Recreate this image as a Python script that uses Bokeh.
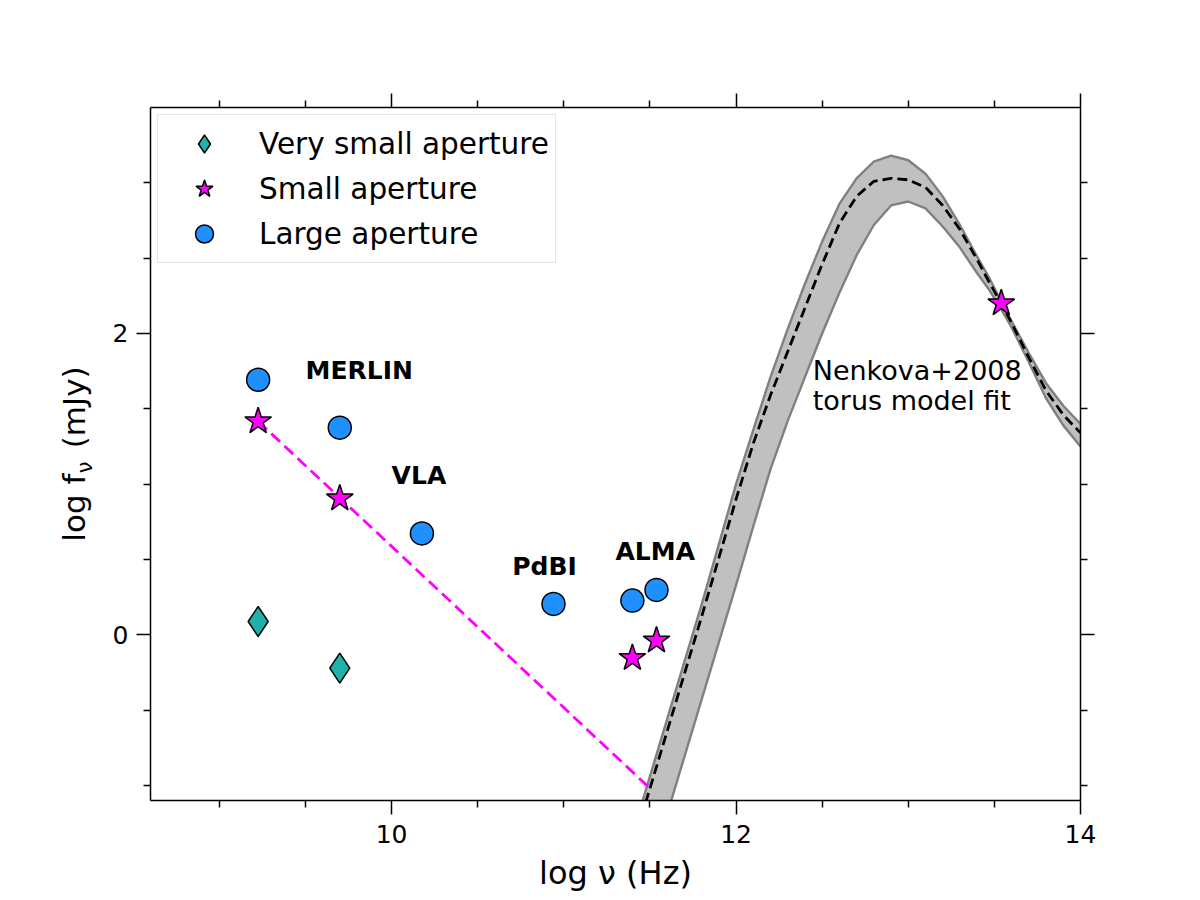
from bokeh.core.properties import value
from bokeh.embed import file_html
from bokeh.models import (ColumnDataSource, FixedTicker, Legend, LegendItem,
                          LinearAxis)
from bokeh.plotting import figure
from bokeh.resources import INLINE

FONT = "DejaVu Sans"

# Nuclear photometry: log frequency [Hz] and log flux density [mJy]
vsmall_nu = [9.225, 9.699]
vsmall_f = [0.088, -0.221]

small_nu = [9.225, 9.699, 11.398, 11.538, 13.54]
small_f = [1.417, 0.905, -0.154, -0.038, 2.20]

large_nu = [9.225, 9.699, 10.176, 10.94, 11.398, 11.538]
large_f = [1.693, 1.375, 0.673, 0.205, 0.227, 0.298]

# Power-law extrapolation through the small-aperture radio points
plaw_nu = [9.225, 11.51]
plaw_f = [1.417, -1.03]

# Clumpy torus model (Nenkova+2008): median and spread of the fit
torus_nu = [11.40, 11.50, 11.60, 11.70, 11.80, 11.90, 12.00, 12.10, 12.20,
            12.30, 12.40, 12.50, 12.60, 12.70, 12.80, 12.90, 13.00, 13.10,
            13.20, 13.30, 13.40, 13.47, 13.54, 13.60, 13.70, 13.80, 13.90,
            14.00]
torus_hi = [-1.32, -0.94, -0.56, -0.18, 0.20, 0.60, 1.00, 1.36, 1.71,
            2.03, 2.33, 2.61, 2.86, 3.03, 3.14, 3.18, 3.15, 3.06,
            2.91, 2.72, 2.51, 2.37, 2.21, 2.08, 1.87, 1.67, 1.52,
            1.40]
torus_med = [-1.40, -1.02, -0.64, -0.26, 0.12, 0.51, 0.90, 1.27, 1.59,
             1.88, 2.17, 2.46, 2.73, 2.91, 3.01, 3.03, 3.02, 2.97,
             2.85, 2.69, 2.49, 2.34, 2.20, 2.07, 1.84, 1.62, 1.46,
             1.34]
torus_lo = [-1.97, -1.58, -1.19, -0.81, -0.43, -0.05, 0.33, 0.72, 1.10,
            1.42, 1.71, 2.00, 2.27, 2.52, 2.72, 2.85, 2.876, 2.83,
            2.71, 2.57, 2.40, 2.29, 2.16, 2.04, 1.81, 1.57, 1.39,
            1.25]

# Instrument names
inst_labels = ["MERLIN", "VLA", "PdBI", "ALMA"]
inst_x = [9.5, 10.0, 10.7, 11.3]
inst_y = [1.755, 1.055, 0.455, 0.555]

model_lines = ["Nenkova+2008", "torus model fit"]
model_x = [12.445, 12.445]
model_y = [1.755, 1.555]

x_major = [10, 12, 14]
x_minor = [9, 9.5, 10.5, 11, 11.5, 12.5, 13, 13.5]
y_major = [0, 2]
y_minor = [-1, -0.5, 0.5, 1, 1.5, 2.5, 3]

p = figure(width=1200, height=900, x_range=(8.6, 14.0), y_range=(-1.1, 3.5),
           output_backend="svg", toolbar_location=None,
           min_border_left=150, min_border_right=120,
           min_border_top=107, min_border_bottom=100)
p.outline_line_color = None
p.grid.visible = False
p.background_fill_color = "white"
p.border_fill_color = "white"


def style_axis(ax):
    ax.axis_line_color = "black"
    ax.axis_line_width = 1.5
    ax.major_tick_line_color = "black"
    ax.major_tick_line_width = 1.5
    ax.minor_tick_line_color = "black"
    ax.minor_tick_line_width = 1.5
    ax.major_tick_in = 0
    ax.major_tick_out = 14
    ax.minor_tick_in = 0
    ax.minor_tick_out = 7
    ax.major_label_text_font = FONT
    ax.major_label_text_font_size = "25px"
    ax.major_label_text_color = "black"


def style_title(ax, size, standoff):
    ax.axis_label_text_font = FONT
    ax.axis_label_text_font_size = size
    ax.axis_label_text_font_style = "normal"
    ax.axis_label_text_color = "black"
    ax.axis_label_standoff = standoff


bottom_axis = p.below[0]
left_axis = p.left[0]
bottom_axis.ticker = FixedTicker(ticks=x_major, minor_ticks=x_minor)
left_axis.ticker = FixedTicker(ticks=y_major, minor_ticks=y_minor)
style_axis(bottom_axis)
style_axis(left_axis)
bottom_axis.major_label_standoff = 10
left_axis.major_label_standoff = 8

bottom_axis.axis_label = "log \u03bd (Hz)"
style_title(bottom_axis, "32px", 8)

# Vertical title: the subscript nu rides on the tick axis, the rest on an
# outer bare axis pulled back over it
left_axis.axis_label = "\u03bd" + "\u00a0" * 4
style_title(left_axis, "21px", 13)

title_axis = LinearAxis(ticker=FixedTicker(ticks=[]),
                        axis_label="log f\u2002\u00a0(mJy)")
title_axis.axis_line_color = None
title_axis.major_tick_line_color = None
title_axis.minor_tick_line_color = None
title_axis.major_tick_out = 0
title_axis.minor_tick_out = 0
title_axis.major_label_standoff = 0
style_title(title_axis, "31px", -22)
p.add_layout(title_axis, "left")

top_axis = LinearAxis(ticker=FixedTicker(ticks=x_major, minor_ticks=x_minor),
                      major_label_overrides={t: "" for t in x_major})
right_axis = LinearAxis(ticker=FixedTicker(ticks=y_major, minor_ticks=y_minor),
                        major_label_overrides={t: "" for t in y_major})
style_axis(top_axis)
style_axis(right_axis)
p.add_layout(top_axis, "above")
p.add_layout(right_axis, "right")

# Torus model band, its edges and the median curve
torus = ColumnDataSource(dict(x=torus_nu, hi=torus_hi, med=torus_med, lo=torus_lo))
p.varea(x="x", y1="lo", y2="hi", source=torus, fill_color="#c0c0c0")
p.line(x="x", y="hi", source=torus, line_color="#808080", line_width=2.4,
       line_join="round")
p.line(x="x", y="lo", source=torus, line_color="#808080", line_width=2.4,
       line_join="round")
p.line(x="x", y="med", source=torus, line_color="black", line_width=2.8,
       line_dash="10 5")

# Radio power-law extrapolation
p.line(x=plaw_nu, y=plaw_f, line_color="#ff00ff", line_width=2.8,
       line_dash="12 6")

r_vs = p.scatter(x=vsmall_nu, y=vsmall_f, marker="diamond", size=30,
                 fill_color="#20b2aa", line_color="black", line_width=1.5)
r_small = p.scatter(x=small_nu, y=small_f, marker="star", size=28,
                    fill_color="#ff00ff", line_color="black", line_width=1.5)
r_large = p.scatter(x=large_nu, y=large_f, marker="circle", size=23,
                    fill_color="#1e90ff", line_color="black", line_width=1.5)

p.text(x=inst_x, y=inst_y, text=inst_labels, text_font=value(FONT),
       text_font_style="bold", text_font_size="25px", text_color="black",
       text_align="left", text_baseline="alphabetic")
p.text(x=model_x, y=model_y, text=model_lines, text_font=value(FONT),
       text_font_size="27px", text_color="black",
       text_align="left", text_baseline="alphabetic")

legend = Legend(items=[LegendItem(label="Very small aperture", renderers=[r_vs]),
                       LegendItem(label="Small aperture", renderers=[r_small]),
                       LegendItem(label="Large aperture", renderers=[r_large])],
                location="top_left")
legend.margin = 7
legend.padding = 6
legend.glyph_width = 80
legend.glyph_height = 45
legend.spacing = 0
legend.label_standoff = 15
legend.label_text_font = FONT
legend.label_text_font_size = "29.5px"
legend.label_text_color = "black"
legend.border_line_color = "#cccccc"
legend.border_line_width = 1.2
legend.background_fill_alpha = 0.85
p.add_layout(legend)

open("out.html", "w").write(file_html(p, INLINE))
